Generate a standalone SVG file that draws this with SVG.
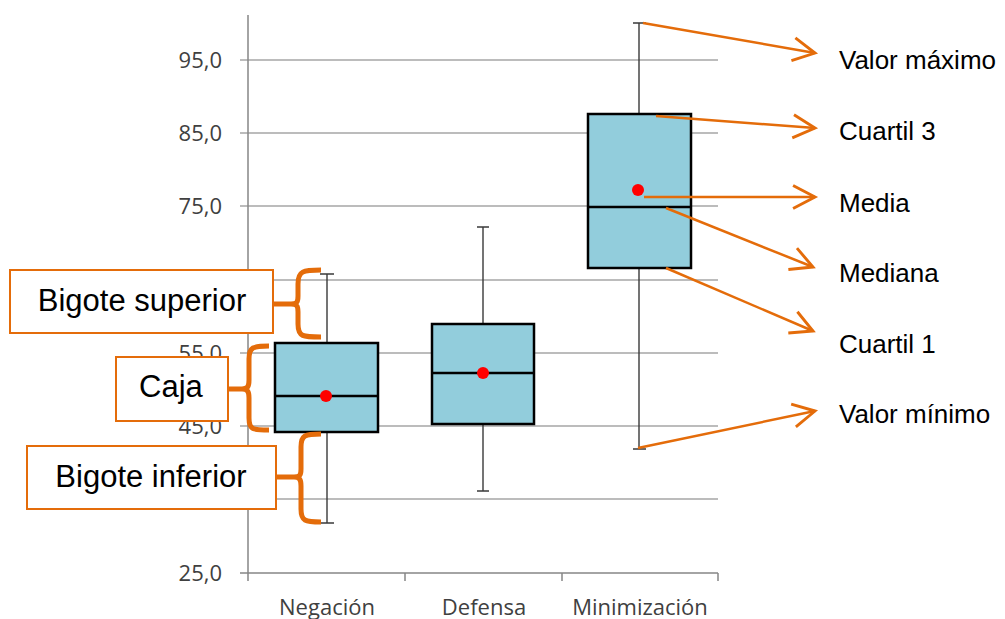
<svg xmlns="http://www.w3.org/2000/svg" width="1005" height="619" viewBox="0 0 1005 619">
<style>
.grid{stroke:#A6A6A6;stroke-width:1.5;fill:none}
.axis{stroke:#868686;stroke-width:1.5;fill:none}
.ylab{font-family:"Open Sans","Liberation Sans",sans-serif;font-size:22px;fill:#404040;text-anchor:end}
.xlab{font-family:"Open Sans","Liberation Sans",sans-serif;font-size:22px;fill:#404040;text-anchor:middle}
.whisk{stroke:#3A3A3A;stroke-width:1.4;fill:none}
.box{fill:#92CDDC;stroke:#000;stroke-width:2.5}
.med{stroke:#000;stroke-width:2.5}
.mean{fill:#FF0000}
.lbox{fill:#fff;stroke:#E46C0A;stroke-width:2}
.ltxt{font-family:"Liberation Sans",Arial,sans-serif;font-size:31px;fill:#000;text-anchor:middle}
.rtxt{font-family:"Liberation Sans",Arial,sans-serif;font-size:26px;fill:#000}
.brace{stroke:#E46C0A;stroke-width:5;fill:none;stroke-linejoin:round}
.arr{stroke:#E46C0A;stroke-width:2.5;fill:none;marker-end:url(#chev)}
</style>
<defs>
<marker id="chev" markerUnits="userSpaceOnUse" markerWidth="30" markerHeight="30" viewBox="-22 -12 26 24" refX="0" refY="0" orient="auto">
<path d="M-19,-10 L0,0 L-19,10" fill="none" stroke="#E46C0A" stroke-width="2.5"/>
</marker>
</defs>
<rect width="1005" height="619" fill="#fff"/>
<g id="chart">
<g id="gridlines">
<path class="grid" d="M240,60H718M240,133H718M240,206H718M240,280H718M240,353H718M240,426H718M240,499H718"/>
</g>
<path class="axis" d="M248,15V573M240,573H718M248,573V581M405,573V581M562,573V581M718,573V581"/>
<g id="ylabels">
<text class="ylab" x="222" y="68">95,0</text>
<text class="ylab" x="222" y="141">85,0</text>
<text class="ylab" x="222" y="214">75,0</text>
<text class="ylab" x="222" y="361">55,0</text>
<text class="ylab" x="222" y="434">45,0</text>
<text class="ylab" x="222" y="581">25,0</text>
</g>
<g id="xlabels">
<text class="xlab" x="327" y="615">Negación</text>
<text class="xlab" x="484" y="615">Defensa</text>
<text class="xlab" x="640" y="615">Minimización</text>
</g>
</g>
<g id="negacion">
<path class="whisk" d="M327,274V523M320,274H334M320,523H334"/>
<rect class="box" x="275" y="343" width="103" height="89"/>
<line class="med" x1="275" y1="396" x2="378" y2="396"/>
<circle class="mean" cx="326" cy="396" r="6"/>
</g>
<g id="defensa">
<path class="whisk" d="M483,227V491M477,227H489M477,491H489"/>
<rect class="box" x="432" y="324" width="102" height="100"/>
<line class="med" x1="432" y1="373" x2="534" y2="373"/>
<circle class="mean" cx="483" cy="373" r="6"/>
</g>
<g id="minimizacion">
<path class="whisk" d="M639,23V449M633,23H646M633,449H646"/>
<rect class="box" x="588" y="114" width="103" height="154"/>
<line class="med" x1="588" y1="207" x2="691" y2="207"/>
<circle class="mean" cx="638" cy="190" r="6"/>
</g>
<g id="connectors">
<path class="brace" d="M321,270C303,270 298,271 298,284V296C298,302 297,304 291,304C297,304 298,306 298,312V324C298,337 303,337 321,337M273,304H293"/>
<path class="brace" d="M269,346C253,346 249,347 249,359V380C249,386 248,389 242,389C248,389 249,392 249,398V418C249,430 253,430 269,430M228,389H244"/>
<path class="brace" d="M321,434C305,434 301,435 301,447V469C301,475 300,477 294,477C300,477 301,480 301,486V509C301,521 305,522 321,522M276,477H296"/>
<line class="arr" x1="643" y1="23" x2="815" y2="53"/>
<line class="arr" x1="656" y1="116" x2="815" y2="128"/>
<line class="arr" x1="644" y1="197" x2="815" y2="197"/>
<line class="arr" x1="666" y1="208" x2="813" y2="267"/>
<line class="arr" x1="666" y1="268" x2="813" y2="331"/>
<line class="arr" x1="638" y1="448" x2="815" y2="411"/>
</g>
<g id="label-bigote-superior">
<rect class="lbox" x="10" y="270" width="263" height="63"/>
<text class="ltxt" x="142" y="311">Bigote superior</text>
</g>
<g id="label-caja">
<rect class="lbox" x="116" y="357" width="112" height="64"/>
<text class="ltxt" x="171" y="397">Caja</text>
</g>
<g id="label-bigote-inferior">
<rect class="lbox" x="27" y="446" width="249" height="63"/>
<text class="ltxt" x="151" y="487">Bigote inferior</text>
</g>
<g id="right-labels">
<text class="rtxt" x="839" y="69">Valor máximo</text>
<text class="rtxt" x="839" y="140">Cuartil 3</text>
<text class="rtxt" x="839" y="212">Media</text>
<text class="rtxt" x="839" y="282">Mediana</text>
<text class="rtxt" x="839" y="353">Cuartil 1</text>
<text class="rtxt" x="839" y="423">Valor mínimo</text>
</g>
</svg>
